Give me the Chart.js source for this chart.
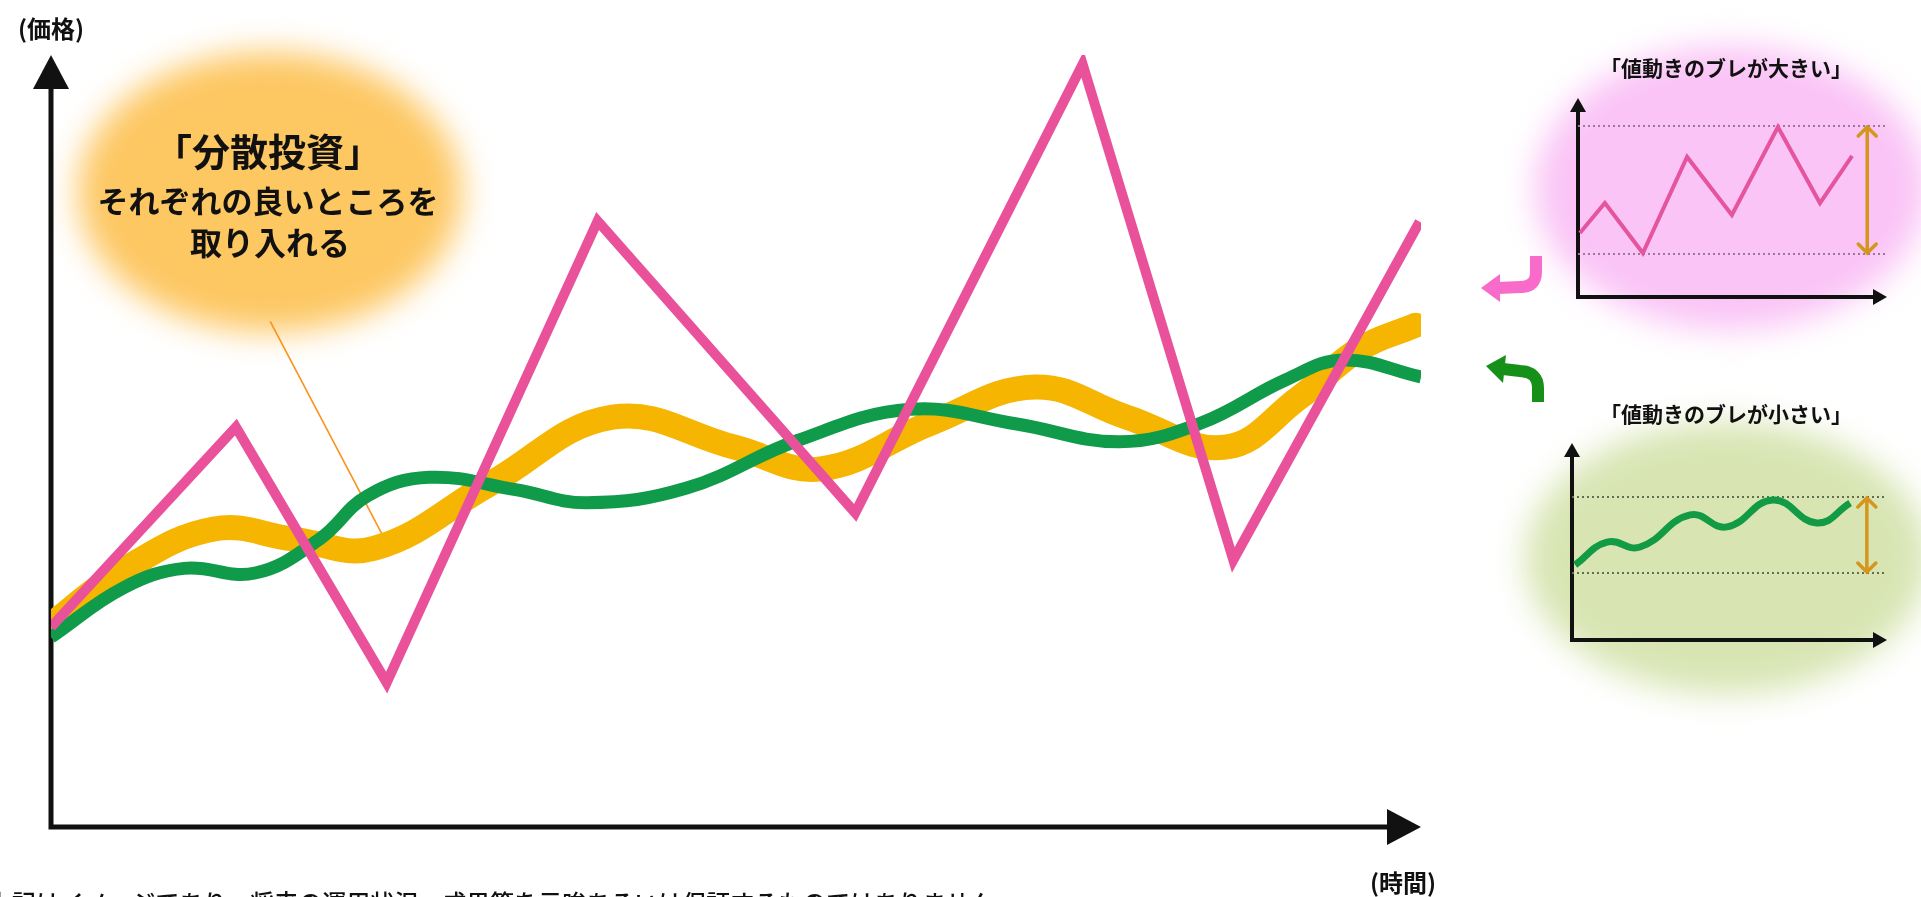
<!DOCTYPE html>
<html lang="ja">
<head>
<meta charset="utf-8">
<script src="https://cdn.jsdelivr.net/npm/chart.js@4"></script>
<style>
  body { margin: 0; width: 1921px; height: 897px; overflow: hidden; background: #fff; position: relative;
         font-family: "Noto Sans CJK JP", "Noto Sans", sans-serif; color: #111; }
  .blob { position: absolute; border-radius: 50%; filter: blur(16px); }
  .txt { position: absolute; white-space: nowrap; font-weight: 700; transform: translate(-50%, -50%); line-height: 1; }
  canvas { position: absolute; }
</style>
</head>
<body>
<div class="blob" style="left:78px; top:52px; width:384px; height:280px; background:#FDC762;"></div>
<div class="blob" style="left:1535px; top:46px; width:392px; height:284px; background:#FAC4F6;"></div>
<div class="blob" style="left:1525px; top:422px; width:404px; height:272px; background:#D8E5B3;"></div>

<canvas id="grafico" width="1921" height="897" style="left:0; top:0;"></canvas>
<canvas id="graficoGrande" width="340" height="230" style="left:1560px; top:80px;"></canvas>
<canvas id="graficoPequeno" width="345" height="230" style="left:1555px; top:425px;"></canvas>

<svg width="1921" height="897" style="position:absolute; left:0; top:0;">
  <path d="M1536,256 L1536,272 Q1536,287 1520,287 L1498,288" fill="none" stroke="#F96BCB" stroke-width="12"/>
  <path d="M1500,274 L1481,288 L1500,302 Z" fill="#F96BCB"/>
  <path d="M1538,402 L1538,388 Q1538,372 1520,371 L1503,369" fill="none" stroke="#17901A" stroke-width="12"/>
  <path d="M1506,355 L1486,366 L1503,383 Z" fill="#17901A"/>
</svg>

<div class="txt" style="left:51px; top:28px; font-size:24px;">(価格)</div>
<div class="txt" style="left:1403px; top:882px; font-size:24px;">(時間)</div>
<div class="txt" style="left:268px; top:150px; font-size:38px;">「分散投資」</div>
<div class="txt" style="left:268px; top:199px; font-size:31px;">それぞれの良いところを</div>
<div class="txt" style="left:270px; top:241px; font-size:32px;">取り入れる</div>
<div class="txt" style="left:1726px; top:67px; font-size:21px;">「値動きのブレが大きい」</div>
<div class="txt" style="left:1726px; top:413px; font-size:21px;">「値動きのブレが小さい」</div>
<div style="position:absolute; left:-12px; top:884px; font-size:24px; font-weight:500; white-space:nowrap;">上記はイメージであり、将来の運用状況・成果等を示唆あるいは保証するものではありません</div>

<script>
// メインチャート
const pinkTime = [0, 13.5, 24.5, 39.9, 58.7, 75.3, 86.3, 99.9];
const pinkPrice = [25.9, 51.8, 18.7, 78.5, 40.7, 98.8, 34.6, 78.4];

const yellowTime = [0, 5.3, 11.9, 17.7, 23.6, 32.0, 41.0, 49.9, 56.2, 64.2, 71.8, 78.5, 85.7, 91.1, 95.5, 99.6];
const yellowPrice = [26.2, 33.3, 38.6, 37.3, 36.1, 44.4, 53.1, 49.2, 46.4, 52.3, 57.0, 53.1, 49.2, 55.6, 61.9, 65.0];

const greenTime = [0, 5.3, 9.7, 14.9, 19.6, 23.1, 27.6, 33.9, 39.1, 46.4, 54.4, 62.7, 70.5, 78.0, 83.9, 90.1, 94.3, 100];
const greenPrice = [24.6, 31.0, 33.5, 32.9, 37.3, 42.9, 45.3, 43.7, 42.0, 43.9, 50.0, 54.1, 52.2, 49.9, 52.3, 57.9, 60.5, 58.3];

// 吹き出しの線 (from, to)
const pointerFrom = [16.0, 65.5];
const pointerTo = [24.2, 37.8];

// 右側の小さいチャート
const bigTime = [0.6, 8.7, 21.0, 35.3, 49.8, 64.7, 78.3, 88.7];
const bigPrice = [32.2, 47.2, 22.1, 70.4, 41.2, 85.4, 47.2, 70.9];
const bigBand = [21.6, 85.9];

const smallTime = [1.0, 11.1, 21.6, 37.5, 49.2, 63.8, 77.8, 88.3];
const smallPrice = [38.1, 49.7, 47.2, 63.5, 57.4, 71.1, 59.4, 69.5];
const smallBand = [34.0, 72.6];

const bandTime = [0, 100];
const arrowTime = 93.6;

function pontos(xs, ys) {
  return xs.map((x, i) => ({ x: x, y: ys[i] }));
}

function seta(ctx, x, y, dir, len, half) {
  ctx.beginPath();
  if (dir === 'up') {
    ctx.moveTo(x, y);
    ctx.lineTo(x - half, y + len);
    ctx.lineTo(x + half, y + len);
  } else {
    ctx.moveTo(x, y);
    ctx.lineTo(x - len, y - half);
    ctx.lineTo(x - len, y + half);
  }
  ctx.closePath();
  ctx.fill();
}

const eixos = (w, len, half) => ({
  id: 'eixos',
  beforeDatasetsDraw(chart) {
    const ctx = chart.ctx;
    const a = chart.chartArea;
    ctx.save();
    ctx.strokeStyle = '#111';
    ctx.fillStyle = '#111';
    ctx.lineWidth = w;
    ctx.beginPath();
    ctx.moveTo(a.left, a.top + len - 2);
    ctx.lineTo(a.left, a.bottom);
    ctx.lineTo(a.right - len + 2, a.bottom);
    ctx.stroke();
    seta(ctx, a.left, a.top, 'up', len, half);
    seta(ctx, a.right, a.bottom, 'right', len, half);
    ctx.restore();
  }
});

const ponteiro = {
  id: 'ponteiro',
  beforeDatasetsDraw(chart) {
    const ctx = chart.ctx;
    const sx = chart.scales.x, sy = chart.scales.y;
    ctx.save();
    ctx.strokeStyle = '#F7931E';
    ctx.lineWidth = 1.6;
    ctx.beginPath();
    ctx.moveTo(sx.getPixelForValue(pointerFrom[0]), sy.getPixelForValue(pointerFrom[1]));
    ctx.lineTo(sx.getPixelForValue(pointerTo[0]), sy.getPixelForValue(pointerTo[1]));
    ctx.stroke();
    ctx.restore();
  }
};

const setaDupla = (band) => ({
  id: 'setaDupla',
  afterDatasetsDraw(chart) {
    const ctx = chart.ctx;
    const x = chart.scales.x.getPixelForValue(arrowTime);
    const y1 = chart.scales.y.getPixelForValue(band[1]);
    const y2 = chart.scales.y.getPixelForValue(band[0]);
    ctx.save();
    ctx.strokeStyle = '#D4961C';
    ctx.lineWidth = 3.5;
    ctx.lineCap = 'round';
    ctx.beginPath();
    ctx.moveTo(x, y1 + 1);
    ctx.lineTo(x, y2 - 1);
    ctx.moveTo(x - 9, y1 + 10); ctx.lineTo(x, y1 + 1); ctx.lineTo(x + 9, y1 + 10);
    ctx.moveTo(x - 9, y2 - 10); ctx.lineTo(x, y2 - 1); ctx.lineTo(x + 9, y2 - 10);
    ctx.stroke();
    ctx.restore();
  }
});

const escalas = {
  x: { type: 'linear', min: 0, max: 100, display: false },
  y: { type: 'linear', min: 0, max: 100, display: false }
};

new Chart(grafico, {
  type: 'line',
  data: {
    datasets: [
      { data: pontos(pinkTime, pinkPrice), borderColor: '#E9529B', borderWidth: 10, tension: 0, borderJoinStyle: 'miter', pointRadius: 0 },
      { data: pontos(greenTime, greenPrice), borderColor: '#0F9B4A', borderWidth: 13, tension: 0.4, pointRadius: 0 },
      { data: pontos(yellowTime, yellowPrice), borderColor: '#F6B500', borderWidth: 25, tension: 0.4, borderCapStyle: 'round', pointRadius: 0 }
    ]
  },
  options: {
    responsive: false,
    animation: false,
    layout: { padding: { left: 51, right: 500, top: 55, bottom: 70 } },
    plugins: { legend: { display: false }, tooltip: { enabled: false } },
    scales: escalas
  },
  plugins: [eixos(5, 34, 18), ponteiro]
});

function miniGrafico(canvas, xs, ys, band, cor, largura, dash, tension, pad) {
  const linhas = band.map(v => ({
    data: pontos(bandTime, [v, v]),
    borderColor: dash,
    borderWidth: 2,
    borderDash: [2, 3],
    pointRadius: 0
  }));
  new Chart(canvas, {
    type: 'line',
    data: {
      datasets: [
        { data: pontos(xs, ys), borderColor: cor, borderWidth: largura, tension: tension, pointRadius: 0 }
      ].concat(linhas)
    },
    options: {
      responsive: false,
      animation: false,
      layout: { padding: pad },
      plugins: { legend: { display: false }, tooltip: { enabled: false } },
      scales: escalas
    },
    plugins: [eixos(4, 14, 8), setaDupla(band)]
  });
}

miniGrafico(graficoGrande, bigTime, bigPrice, bigBand, '#E4559E', 4, '#9a7a98', 0,
  { left: 18, right: 13, top: 18, bottom: 13 });
miniGrafico(graficoPequeno, smallTime, smallPrice, smallBand, '#139A45', 7, '#5f6f52', 0.45,
  { left: 17, right: 13, top: 18, bottom: 15 });
</script>
</body>
</html>
